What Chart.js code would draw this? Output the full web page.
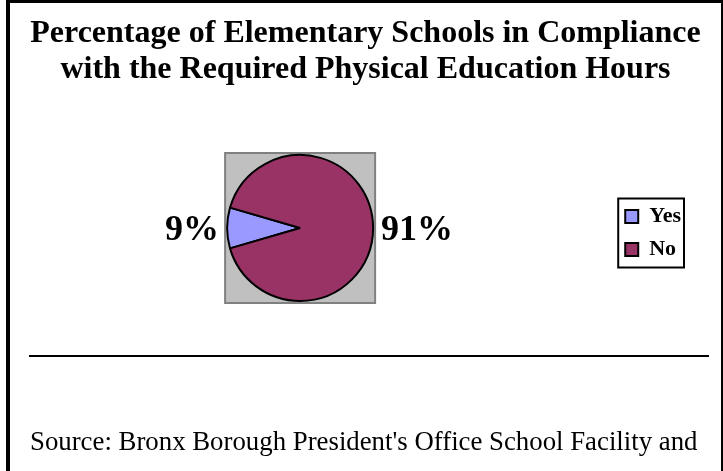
<!DOCTYPE html>
<html>
<head>
<meta charset="utf-8">
<script src="https://cdn.jsdelivr.net/npm/chart.js"></script>
<style>
  html, body { margin: 0; padding: 0; background: #fff; }
  #page { position: relative; width: 723px; height: 471px; overflow: hidden; background: #fff; }
  #frame { position: absolute; left: 6px; top: 0; width: 711px; height: 480px;
           border-left: 4px solid #000; border-top: 3px solid #000; border-right: 2px solid #000; }
  #title { position: absolute; left: 10px; top: 13px; width: 711px; text-align: center;
           font: bold 32px "Liberation Serif", "Times New Roman", serif; line-height: 36px; color: #000; }
  #rule { position: absolute; left: 29px; top: 355px; width: 680px; height: 2px; background: #000; }
  #source { position: absolute; left: 30px; top: 426px; white-space: nowrap;
            font: 26.8px "Liberation Serif", "Times New Roman", serif; line-height: 30px; color: #000; }
  /* canvas sticks out 14px on the left so the pie sits where it should */
  #chart-wrap { position: absolute; left: -14px; top: 0; width: 737px; height: 471px; }
</style>
</head>
<body>
<div id="page">
  <div id="chart-wrap"><canvas id="chart-pe"></canvas></div>
  <div id="frame"></div>
  <div id="title">Percentage of Elementary Schools in Compliance<br>with the Required Physical Education Hours</div>
  <div id="rule"></div>
  <div id="source">Source: Bronx Borough President's Office School Facility and</div>
</div>
<script>
const categories = ["Yes", "No"];
const percents = [9, 91];
const sliceColors = ["#9999FF", "#993366"];

// gray square behind the pie, like the old spreadsheet plot area
const plotBox = {
  id: "plotBox",
  beforeDatasetsDraw(chart) {
    const arc = chart.getDatasetMeta(0).data[0];
    if (!arc) return;
    const ctx = chart.ctx;
    const half = arc.outerRadius + 2;
    ctx.save();
    ctx.fillStyle = "#C0C0C0";
    ctx.fillRect(arc.x - half, arc.y - half, half * 2, half * 2);
    ctx.strokeStyle = "#808080";
    ctx.lineWidth = 2;
    ctx.strokeRect(arc.x - half, arc.y - half, half * 2, half * 2);
    ctx.restore();
  },
};

// percent labels outside each slice
const sliceLabels = {
  id: "sliceLabels",
  afterDatasetsDraw(chart) {
    const ctx = chart.ctx;
    const data = chart.data.datasets[0].data;
    const total = data.reduce((a, b) => a + b, 0);
    ctx.save();
    ctx.font = "bold 36px 'Liberation Serif', 'Times New Roman', serif";
    ctx.fillStyle = "#000";
    ctx.textBaseline = "middle";
    chart.getDatasetMeta(0).data.forEach((arc, i) => {
      const mid = (arc.startAngle + arc.endAngle) / 2;
      const r = arc.outerRadius + 8;
      const x = arc.x + Math.cos(mid) * r;
      const y = arc.y + Math.sin(mid) * r;
      ctx.textAlign = Math.cos(mid) < 0 ? "right" : "left";
      ctx.fillText(Math.round(data[i] / total * 100) + "%", x, y + 3);
    });
    ctx.restore();
  },
};

// black frame round the legend
const legendFrame = {
  id: "legendFrame",
  afterDraw(chart) {
    const boxes = chart.legend && chart.legend.legendHitBoxes;
    if (!boxes || !boxes.length) return;
    const left = Math.min(...boxes.map(b => b.left)) - 7;
    const right = Math.max(...boxes.map(b => b.left + b.width)) + 3;
    const top = Math.min(...boxes.map(b => b.top)) - 7;
    const bottom = Math.max(...boxes.map(b => b.top + b.height)) + 7;
    const ctx = chart.ctx;
    ctx.save();
    ctx.strokeStyle = "#000";
    ctx.lineWidth = 2;
    ctx.strokeRect(left, top, right - left, bottom - top);
    ctx.restore();
  },
};

const ctx = document.getElementById("chart-pe").getContext("2d");
new Chart(ctx, {
  type: "pie",
  data: {
    labels: categories,
    datasets: [{
      data: percents,
      backgroundColor: sliceColors,
      borderColor: "#000",
      borderWidth: 2,
      radius: 73,
    }],
  },
  options: {
    responsive: true,
    maintainAspectRatio: false,
    animation: false,
    rotation: 270 - 16.2,
    layout: { padding: { left: 0, right: 32, top: 153, bottom: 168 } },
    plugins: {
      title: { display: false },
      tooltip: { enabled: false },
      legend: {
        position: "right",
        title: { display: true, text: " ", padding: 0, font: { size: 10, lineHeight: 1 } },
        labels: {
          boxWidth: 13,
          boxHeight: 13,
          padding: 11,
          color: "#000",
          font: { family: "'Liberation Serif', 'Times New Roman', serif", size: 22, weight: "bold" },
        },
      },
    },
  },
  plugins: [plotBox, sliceLabels, legendFrame],
});
</script>
</body>
</html>
